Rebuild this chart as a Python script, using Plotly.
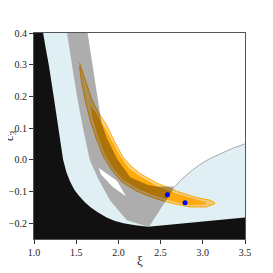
import plotly.graph_objects as go

# ---- data (data coordinates: xi, c3) ----
x_ticks = [1.0, 1.5, 2.0, 2.5, 3.0, 3.5]
y_ticks = [-0.2, -0.1, 0.0, 0.1, 0.2, 0.3, 0.4]

# excluded (black) region boundary
black_x = [1.0, 1.108, 1.14, 1.175, 1.233, 1.29, 1.315, 1.345, 1.385, 1.43, 1.48, 1.53, 1.60, 1.666, 1.75, 1.86, 1.96, 2.06, 2.2, 2.35, 2.6, 3.0, 3.5, 3.5, 1.0]
black_y = [0.4, 0.4, 0.35, 0.3, 0.2, 0.1, 0.05, 0.0, -0.04, -0.07, -0.095, -0.113, -0.133, -0.149, -0.165, -0.182, -0.193, -0.2, -0.207, -0.211, -0.205, -0.195, -0.182, -0.25, -0.25]

# light blue region
blue_x = [1.0, 1.391, 1.45, 1.51, 1.58, 1.66, 1.76, 1.90, 2.10, 2.35, 2.37, 2.67, 2.75, 2.85, 2.96, 3.08, 3.2, 3.35, 3.5, 3.5, 1.0]
blue_y = [0.4, 0.4, 0.30, 0.2, 0.1, 0.0, -0.06, -0.128, -0.191, -0.211, -0.209, -0.084, -0.062, -0.038, -0.016, 0.003, 0.018, 0.036, 0.050, -0.25, -0.25]

# boundary curve on the right
curve_x = [2.67, 2.75, 2.85, 2.96, 3.08, 3.2, 3.35, 3.5]
curve_y = [-0.084, -0.062, -0.038, -0.016, 0.003, 0.018, 0.036, 0.050]

# grey band
gray_x = [1.635, 1.70, 1.752, 1.80, 1.86, 1.98, 2.14, 2.35, 2.45, 2.67, 2.37, 2.35, 2.10, 1.90, 1.76, 1.66, 1.58, 1.51, 1.45, 1.391]
gray_y = [0.4, 0.29, 0.188, 0.115, 0.07, 0.005, -0.055, -0.08, -0.084, -0.084, -0.209, -0.211, -0.191, -0.128, -0.06, 0.0, 0.1, 0.2, 0.30, 0.4]

# hole in the grey band
hole_x = [1.768, 1.985, 2.09, 1.93, 1.79]
hole_y = [-0.026, -0.067, -0.115, -0.085, -0.045]

# 2-sigma contour
c2_x = [1.540, 1.60, 1.686, 1.76, 1.86, 1.95, 2.05, 2.15, 2.26, 2.45, 2.69, 2.92, 3.08, 3.14,
        3.14, 3.042, 2.845, 2.610, 2.413, 2.217, 2.040, 1.922, 1.824, 1.745, 1.666, 1.607, 1.560, 1.540]
c2_y = [0.305, 0.26, 0.19, 0.15, 0.11, 0.06, 0.01, -0.02, -0.044, -0.073, -0.099, -0.119, -0.127, -0.135,
        -0.139, -0.149, -0.149, -0.136, -0.120, -0.099, -0.070, -0.033, 0.009, 0.061, 0.124, 0.1875, 0.251, 0.293]

# 1-sigma contour
c1_x = [1.666, 1.74, 1.83, 1.92, 2.02, 2.13, 2.26, 2.45, 2.69, 2.90, 3.04,
        3.04, 2.90, 2.80, 2.60, 2.41, 2.22, 2.05, 1.94, 1.85, 1.77, 1.70]
c1_y = [0.172, 0.145, 0.105, 0.06, 0.012, -0.028, -0.053, -0.082, -0.107, -0.124, -0.134,
        -0.140, -0.143, -0.142, -0.128, -0.111, -0.090, -0.062, -0.027, 0.012, 0.065, 0.125]

# best-fit points
pt_x = [2.582, 2.790]
pt_y = [-0.110, -0.136]

fig = go.Figure()

def poly(x, y, fill, line_color=None, line_width=0):
    fig.add_trace(go.Scatter(
        x=x, y=y, mode="lines", fill="toself", fillcolor=fill,
        line=dict(color=line_color or fill, width=line_width),
        hoverinfo="skip", showlegend=False))

poly(blue_x, blue_y, "#E0EFF3")
poly(c2_x, c2_y, "rgba(255,165,0,0.5)", "rgba(255,165,0,0.95)", 1)
poly(c1_x, c1_y, "rgba(255,165,0,0.9)")
poly(gray_x, gray_y, "rgba(0,0,0,0.32)")
poly(hole_x, hole_y, "white")
fig.add_trace(go.Scatter(x=curve_x, y=curve_y, mode="lines",
                         line=dict(color="#A8A8A8", width=1),
                         hoverinfo="skip", showlegend=False))
poly(black_x, black_y, "#111111")
fig.add_trace(go.Scatter(x=pt_x, y=pt_y, mode="markers",
                         marker=dict(color="blue", size=5),
                         hoverinfo="skip", showlegend=False))

axis_common = dict(showgrid=False, zeroline=False, ticks="outside", ticklen=4,
                   tickwidth=1, tickcolor="#333", showline=True, mirror=True,
                   linecolor="#555", linewidth=1, automargin=False,
                   tickfont=dict(family="Liberation Serif", size=10, color="#222"))

fig.update_xaxes(range=[1.0, 3.5], tickvals=x_ticks, tickformat=".1f", **axis_common)
fig.update_yaxes(range=[-0.25, 0.4], tickvals=y_ticks, tickformat=".1f", **axis_common)

fig.add_annotation(text="ξ", xref="paper", yref="paper", x=0.5, y=-0.105,
                   xanchor="center", yanchor="middle", showarrow=False,
                   font=dict(family="Liberation Serif", size=13, color="#222"))
fig.add_annotation(text="<i>c</i><sub>3</sub>", xref="paper", yref="paper", x=-0.118, y=0.50,
                   xanchor="center", yanchor="middle", showarrow=False, textangle=-90,
                   font=dict(family="Liberation Serif", size=13, color="#222"))

fig.update_layout(width=265, height=265, autosize=False,
                  margin=dict(l=25.5, r=27.5, t=24.7, b=34.3, autoexpand=False),
                  plot_bgcolor="white", paper_bgcolor="white")

fig.write_html("out.html")
